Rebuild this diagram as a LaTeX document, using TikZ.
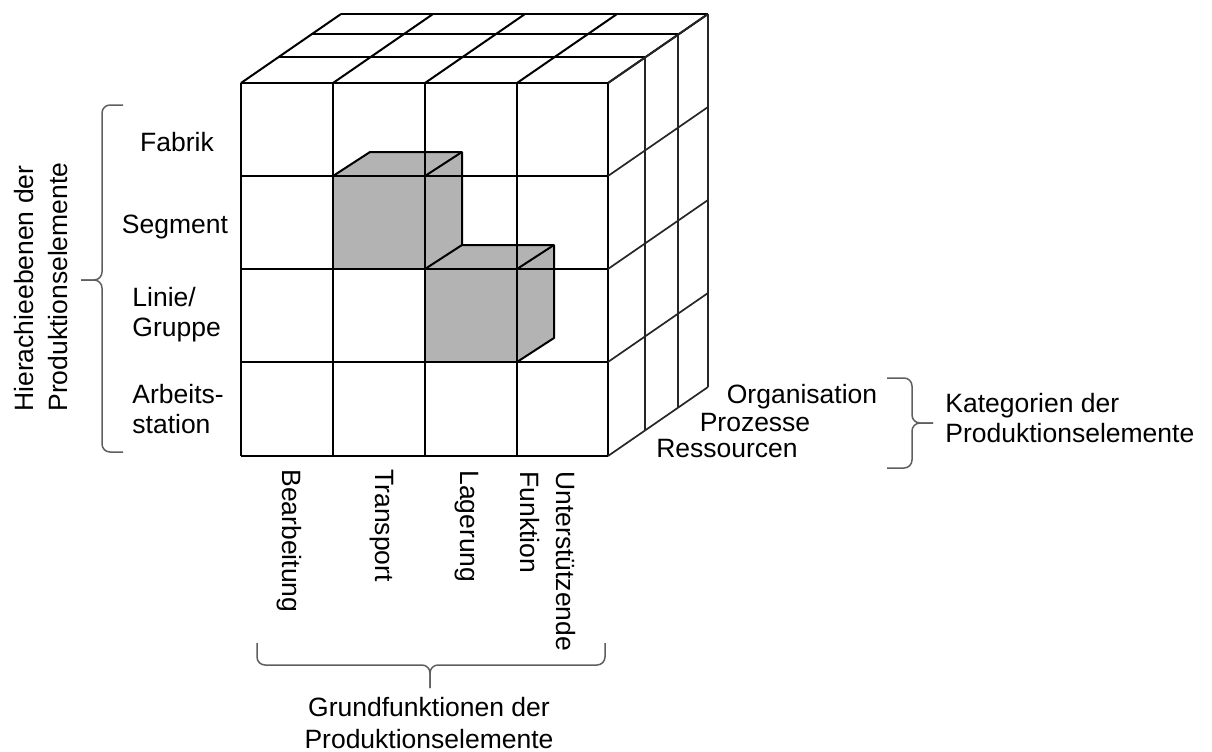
\documentclass[tikz,border=0pt]{standalone}
\usepackage{fontspec}
\setmainfont{Liberation Sans}
\definecolor{blockgray}{RGB}{179,179,179}
\definecolor{bracegray}{RGB}{95,95,95}
\begin{document}
\begin{tikzpicture}[x=0.5pt,y=-0.5pt,
  cubeline/.style={line width=1pt, black, line join=round},
  sideline/.style={line width=0.85pt, black!85, line join=round},
  boxfill/.style={fill=blockgray},
  bracestyle/.style={line width=0.75pt, draw=bracegray, rounded corners=4pt},
  lbl/.style={inner sep=0pt, font=\fontsize{13.25}{15}\selectfont},
]
\useasboundingbox (0,0) rectangle (1212,751);

% corners of the front grid: (f<column><row>)
\foreach \x [count=\i from 0] in {241,333,425,517,608}
  \foreach \y [count=\j from 0] in {83,176,269,362,456}
    \coordinate (f\i\j) at (\x,\y);

% highlighted blocks (filled first, grid drawn over them)
\fill[boxfill] (f11) -- ([shift={(37,-24)}]f11) -- ([shift={(37,-24)}]f21)
  -- ([shift={(37,-24)}]f22) -- (f22) -- (f12) -- cycle;
\fill[boxfill] (f22) -- ([shift={(37,-24)}]f22) -- ([shift={(37,-24)}]f32)
  -- ([shift={(37,-24)}]f33) -- (f33) -- (f23) -- cycle;

% front face
\foreach \i in {0,...,4} \draw[cubeline] (f\i0) -- (f\i4);
\foreach \j in {0,...,4} \draw[cubeline] (f0\j) -- (f4\j);

% top face
\foreach \i in {0,...,4} \draw[cubeline] (f\i0) -- ([shift={(100,-69)}]f\i0);
\foreach \d in {{37,-26},{70,-49},{100,-69}}
  \draw[cubeline] ([shift={(\d)}]f00) -- ([shift={(\d)}]f40);

% right face
\foreach \j in {0,...,4} \draw[sideline] (f4\j) -- ([shift={(100,-69)}]f4\j);
\foreach \d in {{37,-26},{70,-49},{100,-69}}
  \draw[sideline] ([shift={(\d)}]f40) -- ([shift={(\d)}]f44);

% edges of the highlighted blocks
\draw[cubeline] (f11) -- ([shift={(37,-24)}]f11) -- ([shift={(37,-24)}]f21)
  -- ([shift={(37,-24)}]f22);
\draw[cubeline] (f21) -- ([shift={(37,-24)}]f21);
\draw[cubeline] (f22) -- ([shift={(37,-24)}]f22) -- ([shift={(37,-24)}]f32)
  -- ([shift={(37,-24)}]f33) -- (f33);
\draw[cubeline] (f32) -- ([shift={(37,-24)}]f32);

% hierarchy levels
\node[lbl] (fabrik) at (177,142) {Fabrik};
\node[lbl] (segment) at (175,227) {Segment};
\node[lbl, anchor=west, align=left] (linie) at (132,315) {Linie/\\Gruppe};
\node[lbl, anchor=west, align=left] (arbeit) at (132,409) {Arbeits-\\station};
\node[lbl, rotate=90, anchor=west, align=left, font=\fontsize{13.25}{17}\selectfont]
  (hier) at (41,412) {Hierachieebenen der\\Produktionselemente};

% basic functions
\node[lbl, rotate=-90, anchor=west] (bearb) at (289,469) {Bearbeitung};
\node[lbl, rotate=-90, anchor=west] (transp) at (382,469) {Transport};
\node[lbl, rotate=-90, anchor=west] (lager) at (467,470) {Lagerung};
\node[lbl, rotate=-90, anchor=west, align=left, font=\fontsize{13.25}{18}\selectfont]
  (unterst) at (548,471) {Unterstützende\\Funktion};
\node[lbl, align=center, font=\fontsize{13.25}{16}\selectfont]
  (grund) at (429,723) {Grundfunktionen der\\Produktionselemente};

% categories
\node[lbl] (orga) at (802,397) {Organisation};
\node[lbl] (proz) at (755,423) {Prozesse};
\node[lbl] (ress) at (727,449) {Ressourcen};
\node[lbl, anchor=west, align=left] (kat) at (945,418) {Kategorien der\\Produktionselemente};

% braces
\coordinate (lbt) at (123,105); \coordinate (lbb) at (123,452); \coordinate (lbp) at (81,280);
\draw[bracestyle] (lbt) -- (102,105) -- (102,280) -- (lbp);
\draw[bracestyle] (lbb) -- (102,452) -- (102,280) -- (lbp);

\coordinate (rbt) at (887,378); \coordinate (rbb) at (887,468); \coordinate (rbp) at (933,423);
\draw[bracestyle] (rbt) -- (912,378) -- (912,423) -- (rbp);
\draw[bracestyle] (rbb) -- (912,468) -- (912,423) -- (rbp);

\coordinate (bbl) at (257,643); \coordinate (bbr) at (605,643); \coordinate (bbp) at (430,688);
\draw[bracestyle] (bbl) -- (257,665) -- (430,665) -- (bbp);
\draw[bracestyle] (bbr) -- (605,665) -- (430,665) -- (bbp);
\end{tikzpicture}
\end{document}
